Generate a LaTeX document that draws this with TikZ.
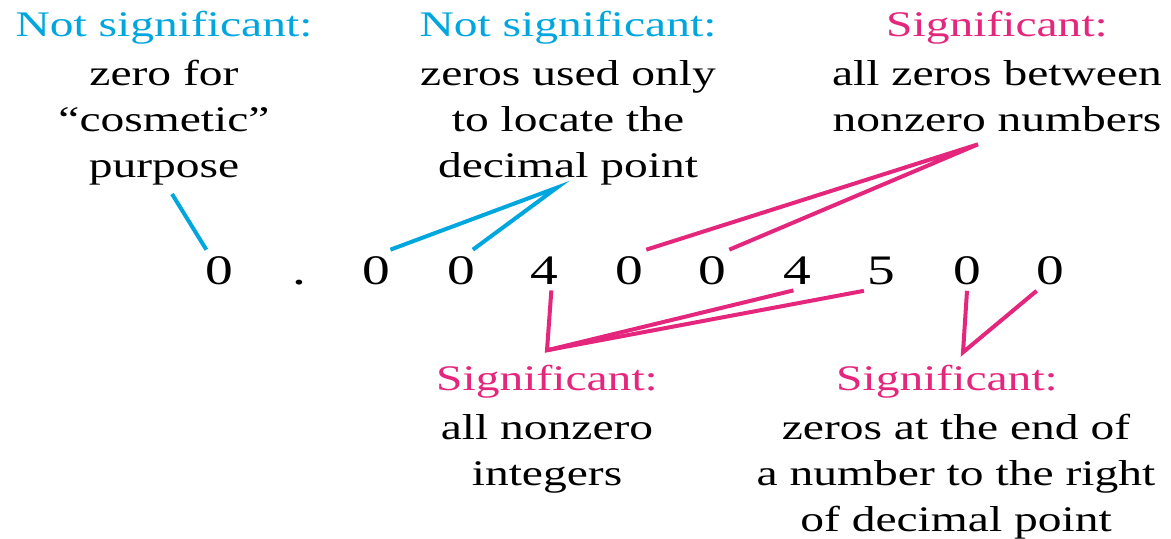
\documentclass[tikz,border=0pt]{standalone}
\usepackage{fontspec}
\setmainfont{Liberation Serif}[FakeStretch=1.32]
\usetikzlibrary{positioning, calc}
\definecolor{notsigcol}{RGB}{0,166,222}
\definecolor{sigcol}{RGB}{228,38,125}
\tikzset{
  % Headings over each note
  heading/.style={anchor=base, inner sep=3pt, font=\fontsize{18}{22}\selectfont},
  notsighead/.style={heading, text=notsigcol},
  sighead/.style={heading, text=sigcol},
  % Explanation text
  note/.style={align=center, inner sep=3pt, font=\fontsize{18}{23}\selectfont},
  % Digits of the number
  digit/.style={anchor=base, inner sep=3pt, font=\fontsize{21}{25}\selectfont},
  % Pointers
  notsigline/.style={draw=notsigcol, line width=2pt},
  sigline/.style={draw=sigcol, line width=2pt},
}
\begin{document}
\begin{tikzpicture}[x=0.5pt, y=-0.5pt]
  \useasboundingbox (0,0) rectangle (1171,538);

  % the number
  \foreach \px/\dg/\nm in {219/0/d0, 299/./dot, 376/0/d1, 461/0/d2, 544/4/d3, 629/0/d4,
                           712/0/d5, 797/4/d6, 881/5/d7, 967/0/d8, 1050/0/d9}
    \node[digit] (\nm) at (\px,284) {\dg};

  % notes above
  \node[notsighead] (t1) at (164,36) {Not significant:};
  \node[note, below=2pt of t1] (b1) {zero for \\ “cosmetic” \\ purpose};
  \node[notsighead] (t2) at (568,36) {Not significant:};
  \node[note, below=2pt of t2] (b2) {zeros used only \\ to locate the \\ decimal point};
  \node[sighead] (t3) at (997,36) {Significant:};
  \node[note, below=2pt of t3] (b3) {all zeros between \\ nonzero numbers};

  % notes below
  \node[sighead] (t4) at (547,390) {Significant:};
  \node[note, below=2pt of t4] (b4) {all nonzero \\ integers};
  \node[sighead] (t5) at (947,390) {Significant:};
  \node[note, below=2pt of t5, xshift=4.5pt] (b5) {zeros at the end of \\ a number to the right \\ of decimal point};

  \coordinate (j2) at ([xshift=-5.5pt,yshift=2pt]b2.south);
  \coordinate (j3) at ([xshift=-9.5pt,yshift=-3pt]b3.south);
  \coordinate (j4) at ([yshift=4pt]t4.north);
  \coordinate (j5) at ([xshift=8pt,yshift=3pt]t5.north);

  \draw[notsigline] ([xshift=4pt,yshift=-1pt]b1.south) -- (d0);
  \draw[notsigline] (d1.55) -- (j2) -- (d2.60);
  \draw[sigline] (d4.50) -- (j3) -- (d5.50);
  \draw[sigline] (d3.-70) -- (j4) -- (d6.-100);
  \draw[sigline] (j4) -- (d7.-130);
  \draw[sigline] (d8.south) -- (j5) -- (d9.-123);

\end{tikzpicture}
\end{document}
